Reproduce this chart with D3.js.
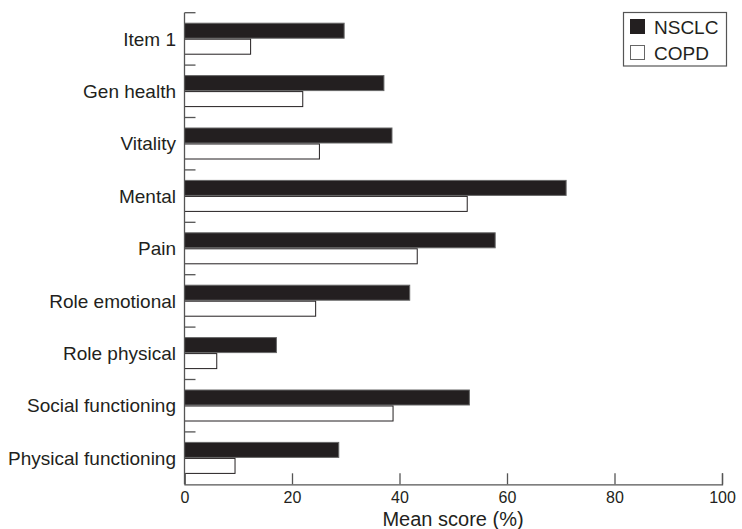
<!DOCTYPE html>
<html>
<head>
<meta charset="utf-8">
<script src="https://cdn.jsdelivr.net/npm/d3@7"></script>
<style>
  body { margin: 0; background: #fff; }
  svg { display: block; font-family: "Liberation Sans", Arial, sans-serif; }
</style>
</head>
<body>
<svg width="742" height="529"></svg>
<script>
var categories = ["Item 1", "Gen health", "Vitality", "Mental", "Pain", "Role emotional",
                  "Role physical", "Social functioning", "Physical functioning"];
var seriesNames = ["NSCLC", "COPD"];
var nsclc = [29.7, 37.1, 38.6, 71.0, 57.8, 41.9, 17.1, 53.0, 28.7];
var copd  = [12.3, 22.0, 25.1, 52.6, 43.3, 24.4, 6.0, 38.8, 9.4];
var xTicks = [0, 20, 40, 60, 80, 100];

var ink = "#231f20", axisCol = "#555";

var rows = categories.map(function(c, i) {
    return { cat: c, values: [nsclc[i], copd[i]] };
});

var svg = d3.select("svg");

var x = d3.scaleLinear().domain([0, 100]).range([184.5, 722]);
var y = d3.scaleBand().domain(categories).range([12.7, 484.3]);
// two bars inside each band
var ySub = d3.scaleBand().domain(seriesNames).range([10, 42]);

// bars
var groups = svg.append("g").selectAll("g").data(rows).enter().append("g")
    .attr("transform", function(d) { return "translate(0," + y(d.cat) + ")"; });

groups.selectAll("rect").data(function(d) {
        return d.values.map(function(v, j) { return { s: seriesNames[j], v: v }; });
    }).enter().append("rect")
    .attr("x", x(0))
    .attr("y", function(d) { return ySub(d.s) + 0.5; })
    .attr("width", function(d) { return x(d.v) - x(0); })
    .attr("height", ySub.bandwidth() - 1)
    .attr("fill", function(d) { return d.s === "NSCLC" ? ink : "#fff"; })
    .attr("stroke", function(d) { return d.s === "NSCLC" ? "#666" : ink; })
    .attr("stroke-width", 1);

// left axis with ticks between the categories
var left = svg.append("g");
left.append("line")
    .attr("x1", x(0)).attr("x2", x(0))
    .attr("y1", 12.7).attr("y2", 484.3)
    .attr("stroke", axisCol).attr("stroke-width", 1.3);
left.selectAll("line.tk").data(categories).enter().append("line")
    .attr("class", "tk")
    .attr("x1", x(0)).attr("x2", x(0) + 11)
    .attr("y1", function(d) { return y(d); })
    .attr("y2", function(d) { return y(d); })
    .attr("stroke", axisCol).attr("stroke-width", 1.3);
left.selectAll("text").data(categories).enter().append("text")
    .attr("x", 176)
    .attr("y", function(d) { return y(d) + y.bandwidth() / 2; })
    .attr("dy", "0.35em")
    .attr("text-anchor", "end")
    .attr("font-size", 19)
    .attr("fill", ink)
    .text(function(d) { return d; });

// bottom axis, ticks pointing inward
var xaxis = d3.axisBottom(x).tickValues(xTicks).tickSize(-11).tickPadding(7);
var gx = svg.append("g")
    .attr("transform", "translate(0,484.3)")
    .call(xaxis);
gx.select(".domain").attr("stroke", axisCol).attr("stroke-width", 1.3);
gx.selectAll(".tick line").attr("stroke", axisCol).attr("stroke-width", 1.3);
gx.selectAll(".tick text")
    .attr("font-size", 16)
    .attr("font-family", "Liberation Sans, Arial, sans-serif")
    .attr("fill", ink);

svg.append("text")
    .attr("x", 453).attr("y", 526)
    .attr("text-anchor", "middle")
    .attr("font-size", 20)
    .attr("fill", ink)
    .text("Mean score (%)");

// legend
var legend = svg.append("g");
legend.append("rect")
    .attr("x", 623.5).attr("y", 12.5).attr("width", 103).attr("height", 53.5)
    .attr("fill", "#fff").attr("stroke", axisCol).attr("stroke-width", 1.2);
var li = legend.selectAll("g").data(seriesNames).enter().append("g")
    .attr("transform", function(d, i) { return "translate(630," + (19 + i * 26) + ")"; });
li.append("rect")
    .attr("x", 0.5).attr("y", 0.5).attr("width", 14).attr("height", 14)
    .attr("fill", function(d) { return d === "NSCLC" ? ink : "#fff"; })
    .attr("stroke", function(d) { return d === "NSCLC" ? ink : "#666"; });
li.append("text")
    .attr("x", 24).attr("y", 14.5)
    .attr("font-size", 19)
    .attr("fill", ink)
    .text(function(d) { return d; });
</script>
</body>
</html>
